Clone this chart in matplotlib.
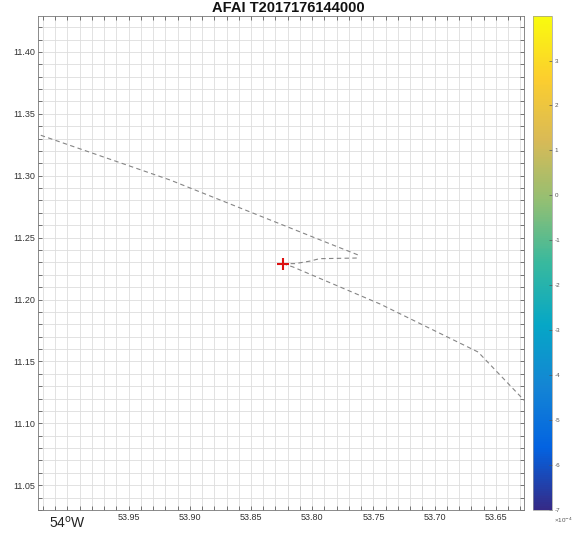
import numpy as np
import matplotlib
matplotlib.use("Agg")
import matplotlib.pyplot as plt
from matplotlib.colors import LinearSegmentedColormap, Normalize
from matplotlib.cm import ScalarMappable
from matplotlib.ticker import MultipleLocator, FixedLocator

plt.rcParams['font.family'] = ['Liberation Sans', 'DejaVu Sans']

title = "AFAI T2017176144000"

# trajectory (degrees W, degrees N)
lon_fwd = [53.824, 53.814, 53.802, 53.794, 53.764, 53.7626, 53.7666, 53.783, 53.916, 54.030]
lat_fwd = [11.229, 11.229, 11.231, 11.233, 11.2335, 11.236, 11.2376, 11.244, 11.2965, 11.3355]
lon_bwd = [53.824, 53.8157, 53.7446, 53.6645, 53.620]
lat_bwd = [11.229, 11.2263, 11.1964, 11.1576, 11.1115]
marker_lon = [53.824]
marker_lat = [11.229]

xlim = (54.024, 53.627)
ylim = (11.030, 11.429)
x_label_ticks = [53.95, 53.90, 53.85, 53.80, 53.75, 53.70, 53.65]
y_label_ticks = [11.05, 11.10, 11.15, 11.20, 11.25, 11.30, 11.35, 11.40]
cbar_ticks = [-7, -6, -5, -4, -3, -2, -1, 0, 1, 2, 3]
cbar_range = (-7.0, 3.99)

parula_pts = ['#352A87', '#0363E1', '#1485D4', '#06A7C6', '#38B99E',
              '#92BF73', '#D9BA56', '#FCCE2E', '#F9FB0E']
cmap = LinearSegmentedColormap.from_list('parula', parula_pts, N=256)

W, H = 577, 533
fig = plt.figure(figsize=(W / 100, H / 100), dpi=100)
ax = fig.add_axes([38 / W, (H - 510) / H, 486 / W, 494 / H])

ax.set_xlim(*xlim)
ax.set_ylim(*ylim)

ax.xaxis.set_major_locator(FixedLocator(x_label_ticks))
ax.yaxis.set_major_locator(FixedLocator(y_label_ticks))
ax.xaxis.set_minor_locator(MultipleLocator(0.01))
ax.yaxis.set_minor_locator(MultipleLocator(0.01))
ax.set_xticklabels([f"{v:.2f}" for v in x_label_ticks])
ax.set_yticklabels([f"{v:.2f}" for v in y_label_ticks])
ax.tick_params(which='both', direction='in', length=3, width=0.5,
               top=True, right=True, colors='#444444', labelsize=6.5,
               labelcolor='#333333', pad=2)
ax.grid(which='both', color='#dddddd', linewidth=0.6)
ax.set_axisbelow(True)
for s in ax.spines.values():
    s.set_color('#777777')
    s.set_linewidth(0.6)

ax.plot(lon_fwd, lat_fwd, color='#858585', linewidth=0.8, linestyle=(0, (4, 3)))
ax.plot(lon_bwd, lat_bwd, color='#858585', linewidth=0.8, linestyle=(0, (4, 3)))
ax.plot(marker_lon, marker_lat, marker='+', color='#dd1111', markersize=8,
        markeredgewidth=1.5, linestyle='none')

ax.text(54.00, -0.026, "54$^{\\mathrm{o}}$W", ha='center', va='center',
        fontsize=10, color='#222222',
        transform=ax.get_xaxis_transform(), clip_on=False)

ax.set_title(title, fontsize=10.5, fontweight='bold', pad=3, color='#111111',
             x=0.516)

cax = fig.add_axes([533 / W, (H - 510) / H, 19 / W, 494 / H])
sm = ScalarMappable(norm=Normalize(*cbar_range), cmap=cmap)
cb = fig.colorbar(sm, cax=cax, ticks=cbar_ticks)
cb.ax.set_yticklabels([str(t) for t in cbar_ticks])
cb.ax.tick_params(direction='in', length=2, width=0.5, labelsize=4.5,
                  colors='#555555', pad=2)
cb.outline.set_edgecolor('#999999')
cb.outline.set_linewidth(0.5)
cax.text(1.1, -0.012, "\u00d710$^{-4}$", transform=cax.transAxes,
         ha='left', va='top', fontsize=4.5, color='#555555')

fig.savefig("out.png", dpi=100)
